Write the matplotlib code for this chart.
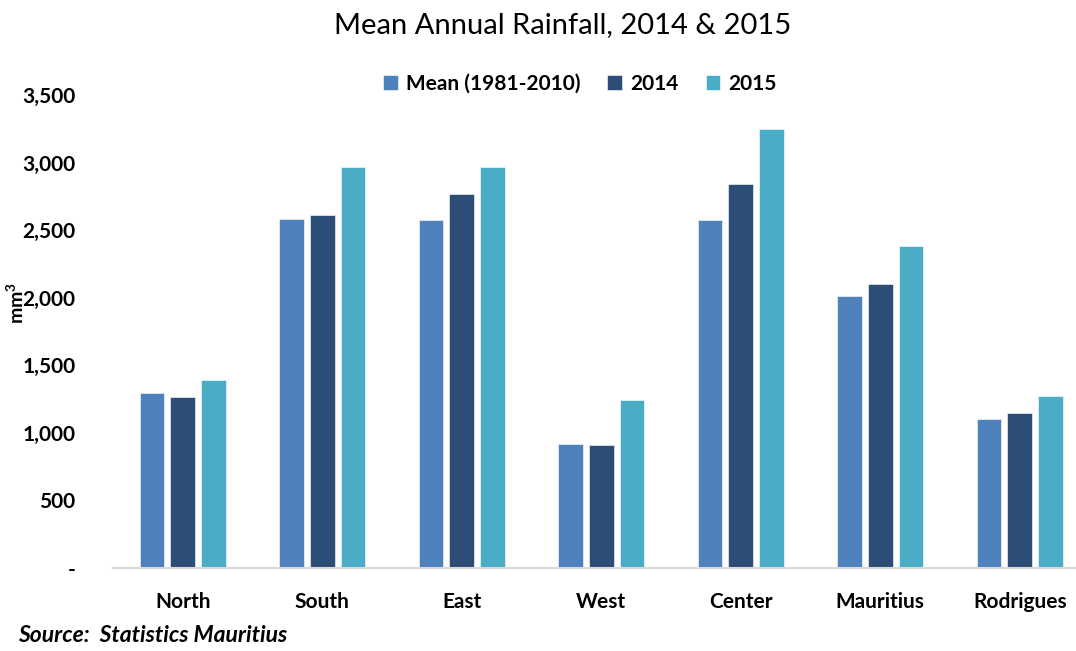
import numpy as np
import matplotlib
matplotlib.use("Agg")
import matplotlib.pyplot as plt
from matplotlib.ticker import FuncFormatter

# data (mm)
regions = ["North", "South", "East", "West", "Center", "Mauritius", "Rodrigues"]
mean_1981_2010 = [1295, 2580, 2575, 915, 2575, 2010, 1105]
rain_2014 = [1265, 2615, 2765, 910, 2845, 2100, 1145]
rain_2015 = [1390, 2965, 2965, 1245, 3250, 2385, 1275]
series_labels = ["Mean (1981-2010)", "2014", "2015"]
colors = ["#4F81BD", "#2C4E76", "#4BACC6"]

plt.rcParams["font.family"] = ["Lato", "DejaVu Sans"]
plt.rcParams["mathtext.fontset"] = "custom"
plt.rcParams["mathtext.bf"] = "Lato:bold"
plt.rcParams["mathtext.rm"] = "Lato"

W, H = 1076, 651
fig = plt.figure(figsize=(W / 100, H / 100), dpi=100)

# axes placed in pixel terms: left edge 113, baseline at y=568, 3,500 at y=95
left, bottom, top = 113, 568, 95
ax = fig.add_axes([left / W, (H - bottom) / H, (W - left) / W, (bottom - top) / H])

x = np.arange(len(regions))
width = 0.176
step = 0.22
for i, (vals, lab, col) in enumerate(zip([mean_1981_2010, rain_2014, rain_2015],
                                         series_labels, colors)):
    ax.bar(x + (i - 1) * step, vals, width, color=col, label=lab,
           edgecolor="white", linewidth=0.4)

group_px = 139.5
ax.set_xlim(-0.5, -0.5 + (W - left) / group_px)
ax.set_ylim(0, 3500)
ax.set_yticks(np.arange(0, 3501, 500))
ax.yaxis.set_major_formatter(FuncFormatter(lambda v, p: "-" if v == 0 else f"{int(v):,}"))
ax.set_xticks(x)
ax.set_xticklabels(regions)

for s in ["top", "right", "left"]:
    ax.spines[s].set_visible(False)
ax.spines["bottom"].set_color("#D9D9D9")
ax.spines["bottom"].set_linewidth(1.5)
ax.tick_params(axis="both", length=0, labelsize=15)
ax.tick_params(axis="y", pad=27)
ax.tick_params(axis="x", pad=17)
for t in ax.get_xticklabels() + ax.get_yticklabels():
    t.set_fontweight("bold")

fig.text(16 / W, 1 - 303 / H, r"$\mathbf{mm^3}$", rotation=90, ha="center", va="center",
         fontsize=14)

fig.suptitle("Mean Annual Rainfall, 2014 & 2015", x=563 / W, y=1 - 25 / H,
             va="center", fontsize=21)

leg = fig.legend(loc="center", bbox_to_anchor=(580 / W, 1 - 84 / H), ncol=3,
                 frameon=False, handlelength=0.7, handleheight=0.7,
                 handletextpad=0.4, columnspacing=1.3,
                 prop={"weight": "bold", "size": 15})

fig.text(18 / W, 1 - 636 / H, "Source:  Statistics Mauritius", ha="left", va="center",
         fontsize=16.5, fontweight="bold", fontstyle="italic")

fig.savefig("out.png", dpi=100)
